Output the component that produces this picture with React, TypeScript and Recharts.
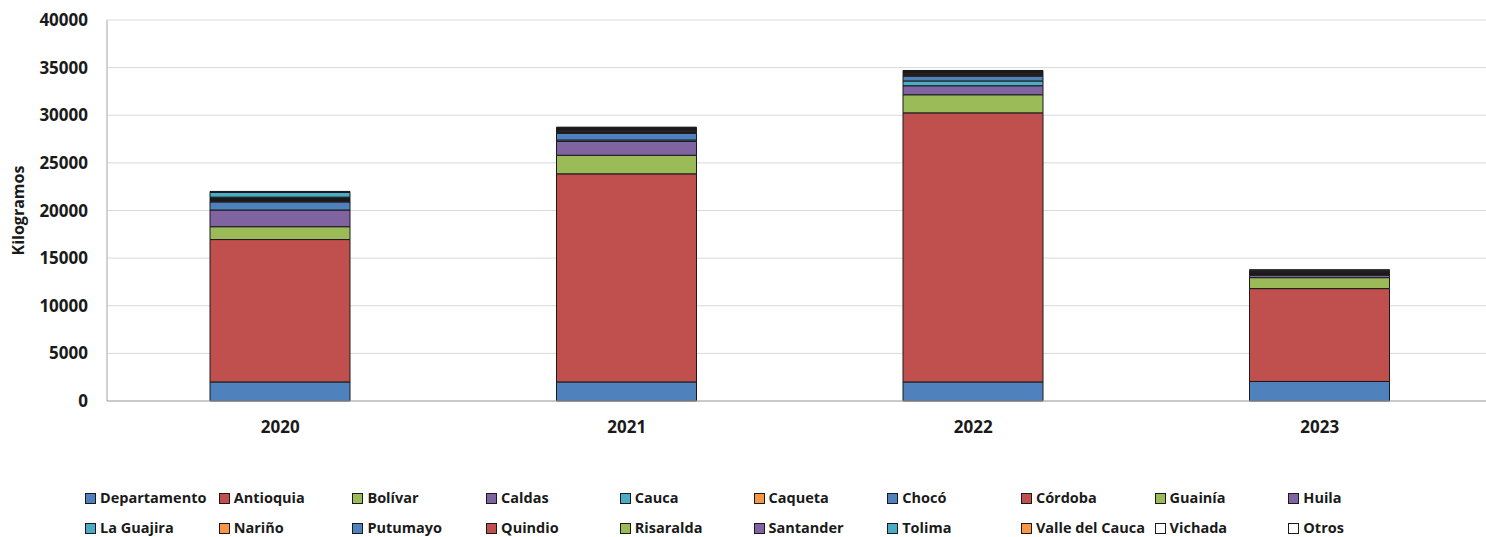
import { BarChart, Bar, XAxis, YAxis, CartesianGrid } from "recharts";

const years = ["2020", "2021", "2022", "2023"];

const seriesNames = [
  "Departamento",
  "Antioquia",
  "Bolívar",
  "Caldas",
  "Cauca",
  "Caqueta",
  "Chocó",
  "Córdoba",
  "Guainía",
  "Huila",
  "La Guajira",
  "Nariño",
  "Putumayo",
  "Quindio",
  "Risaralda",
  "Santander",
  "Tolima",
  "Valle del Cauca",
  "Vichada",
  "Otros",
];

// kilogramos por año (2020, 2021, 2022, 2023)
const departamento = [2000, 2000, 2000, 2050];
const antioquia = [14950, 21850, 28250, 9750];
const bolivar = [1350, 1950, 1900, 1150];
const caldas = [1750, 1450, 950, 250];
const cauca = [0, 150, 500, 0];
const caqueta = [0, 0, 0, 0];
const choco = [850, 700, 500, 100];
const cordoba = [100, 100, 100, 50];
const guainia = [50, 50, 50, 30];
const huila = [100, 100, 50, 100];
const laGuajira = [50, 0, 0, 0];
const narino = [0, 0, 0, 0];
const putumayo = [50, 100, 50, 50];
const quindio = [100, 50, 100, 50];
const risaralda = [0, 50, 50, 0];
const santander = [50, 50, 50, 50];
const tolima = [500, 50, 50, 50];
const valle = [50, 50, 50, 50];
const vichada = [0, 0, 0, 0];
const otros = [50, 50, 50, 50];

const seriesValues = [
  departamento, antioquia, bolivar, caldas, cauca, caqueta, choco, cordoba,
  guainia, huila, laGuajira, narino, putumayo, quindio, risaralda, santander,
  tolima, valle, vichada, otros,
];

const yTicks = [0, 5000, 10000, 15000, 20000, 25000, 30000, 35000, 40000];

const palette = ["#4F81BD", "#C0504D", "#9BBB59", "#8064A2", "#4BACC6", "#F79646"];
const colorFor = (i: number) => (i >= 18 ? "#FFFFFF" : palette[i % palette.length]);

const chartData = years.map((year, yi) => {
  const row: Record<string, string | number> = { year };
  seriesNames.forEach((name, si) => {
    row[name] = seriesValues[si][yi];
  });
  return row;
});

const FONT = "'Open Sans', 'Noto Sans', sans-serif";

export default function App() {
  return (
    <div
      style={{
        position: "absolute",
        left: 0,
        top: 0,
        width: 1486,
        height: 537,
        overflow: "hidden",
        background: "#fff",
        fontFamily: FONT,
      }}
    >
      <BarChart
        width={1493}
        height={450}
        data={chartData}
        margin={{ top: 20, right: 0, left: 0, bottom: 19 }}
        barSize={140}
      >
        <CartesianGrid vertical={false} stroke="#d9d9d9" />
        <XAxis
          dataKey="year"
          stroke="#a6a6a6"
          tickLine={false}
          tickSize={0}
          tickMargin={20}
          height={30}
          tick={{ fill: "#1a1a1a", fontSize: 17, fontWeight: 700, fontFamily: FONT }}
        />
        <YAxis
          width={107}
          domain={[0, 40000]}
          ticks={yTicks}
          stroke="#a6a6a6"
          tickLine={false}
          tickSize={0}
          tickMargin={19}
          tick={{ fill: "#1a1a1a", fontSize: 17, fontWeight: 700, fontFamily: FONT }}
          label={{
            value: "Kilogramos",
            angle: -90,
            position: "insideLeft",
            offset: 18,
            style: { fill: "#1a1a1a", fontSize: 16, fontWeight: 700, fontFamily: FONT, textAnchor: "middle" },
          }}
        />
        {seriesNames.map((name, i) => (
          <Bar
            key={name}
            dataKey={name}
            stackId="a"
            fill={colorFor(i)}
            stroke="#1a1a1a"
            strokeWidth={1}
            isAnimationActive={false}
          />
        ))}
      </BarChart>
      {seriesNames.map((name, i) => {
        const col = i % 10;
        const row = Math.floor(i / 10);
        return (
          <div
            key={name}
            style={{
              position: "absolute",
              left: 85 + col * 133.7,
              top: 489 + row * 30,
              display: "flex",
              alignItems: "center",
              fontSize: 14.5,
              fontWeight: 700,
              color: "#1a1a1a",
              whiteSpace: "nowrap",
              lineHeight: "18px",
            }}
          >
            <span
              style={{
                display: "inline-block",
                width: 9,
                height: 9,
                background: colorFor(i),
                border: "1px solid #1a1a1a",
                marginRight: 4,
              }}
            />
            {name}
          </div>
        );
      })}
    </div>
  );
}
